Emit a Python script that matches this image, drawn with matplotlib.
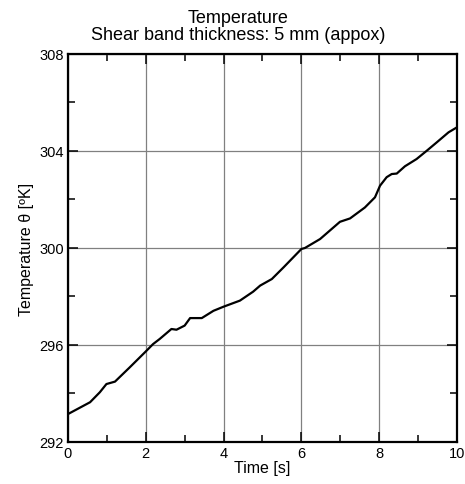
import matplotlib
matplotlib.use("Agg")
import matplotlib.pyplot as plt
from matplotlib.ticker import MultipleLocator

plt.rcParams['font.family'] = ['Liberation Sans', 'DejaVu Sans']

time_s = [0.0, 0.57, 0.82, 0.99, 1.21, 1.59, 1.98, 2.19, 2.36, 2.66, 2.79, 3.0, 3.14,
          3.44, 3.74, 4.0, 4.42, 4.76, 4.94, 5.24, 5.54, 6.0, 6.09, 6.48, 6.99, 7.25,
          7.63, 7.89, 8.02, 8.19, 8.32, 8.45, 8.66, 8.96, 9.22, 9.48, 9.78, 10.0]
temp_K = [293.15, 293.64, 294.05, 294.39, 294.49, 295.08, 295.7, 296.04, 296.25, 296.66,
          296.63, 296.8, 297.11, 297.11, 297.41, 297.58, 297.83, 298.2, 298.45, 298.72,
          299.2, 299.96, 300.0, 300.37, 301.08, 301.22, 301.67, 302.09, 302.57, 302.92,
          303.05, 303.07, 303.37, 303.67, 304.01, 304.36, 304.77, 304.98]

x_ticks = [0, 2, 4, 6, 8, 10]
y_ticks = [292, 296, 300, 304, 308]

fig = plt.figure(figsize=(4.65, 4.85), dpi=100)
ax = fig.add_axes([0.146, 0.0866, 0.837, 0.8])
ax.plot(time_s, temp_K, color='black', lw=1.6)
ax.set_xlim(0, 10)
ax.set_ylim(292, 308)
ax.set_xticks(x_ticks)
ax.set_yticks(y_ticks)
ax.xaxis.set_minor_locator(MultipleLocator(1))
ax.yaxis.set_minor_locator(MultipleLocator(2))
ax.tick_params(which='both', direction='in', top=True, right=True, labelsize=10.5, width=1.1)
ax.tick_params(which='major', length=7, pad=3)
ax.tick_params(which='minor', length=5)
ax.grid(True, which='major', color='#808080', lw=0.9)
for s in ax.spines.values():
    s.set_linewidth(1.6)
ax.set_xlabel('Time [s]', fontsize=11.5, labelpad=0)
ax.set_ylabel('Temperature θ [ºK]', fontsize=11.5, labelpad=4)
ax.set_title('Temperature\nShear band thickness: 5 mm (appox)', fontsize=13,
             linespacing=0.95, pad=11, x=0.437)
fig.savefig('out.png', dpi=100)
